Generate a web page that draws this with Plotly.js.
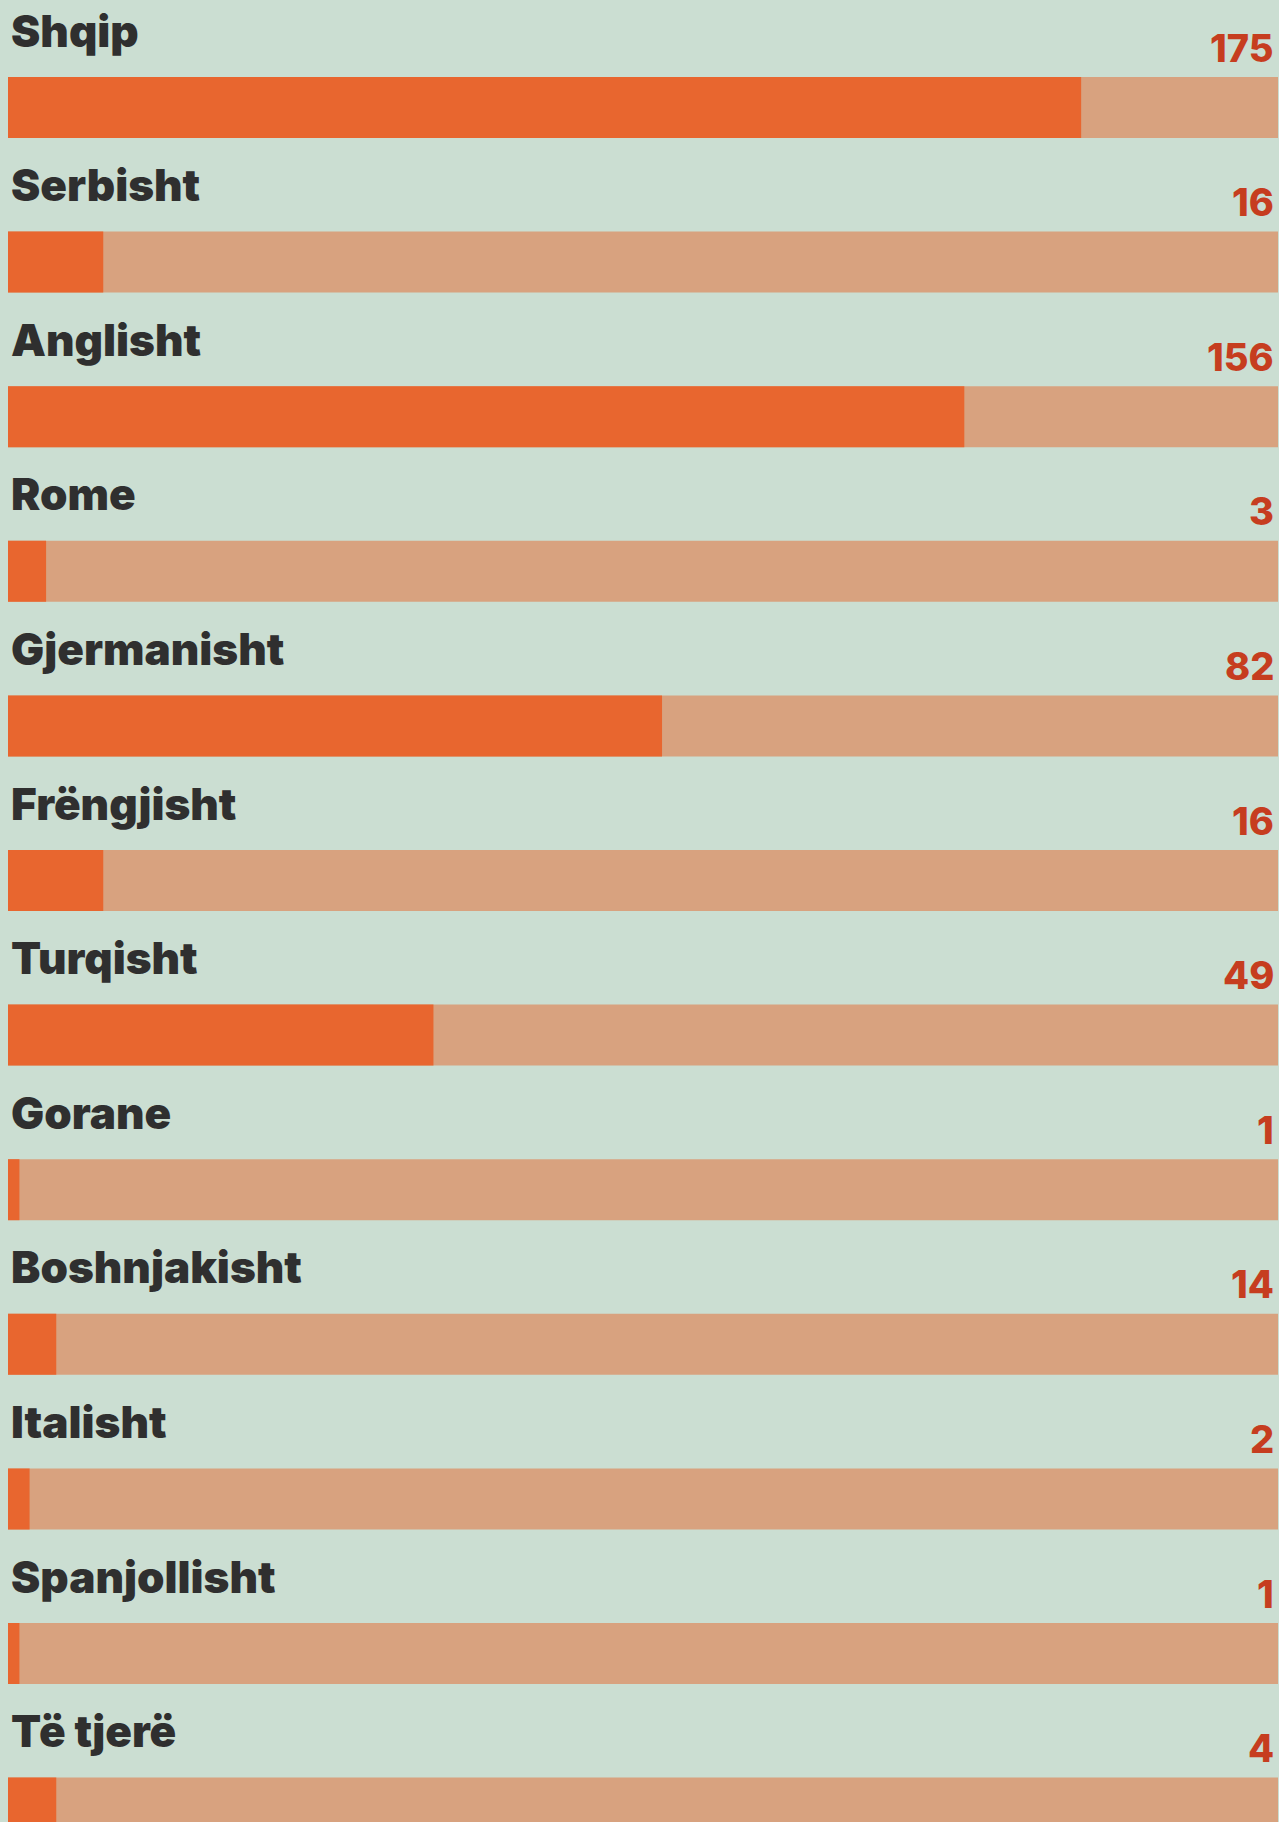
<!DOCTYPE html>
<html>
<head>
<meta charset="utf-8">
<script src="https://cdn.plot.ly/plotly-3.0.1.min.js"></script>
<style>
  html, body { margin: 0; padding: 0; background: #cbded2; overflow: hidden; }
  #chart { width: 1279px; height: 1822px; }
</style>
</head>
<body>
<div id="chart"></div>
<script>
// Languages (top to bottom)
const languages = ["Shqip", "Serbisht", "Anglisht", "Rome", "Gjermanisht", "Frëngjisht",
                   "Turqisht", "Gorane", "Boshnjakisht", "Italisht", "Spanjollisht", "Të tjerë"];
// Numbers shown on the right of each row
const counts = [175, 16, 156, 3, 82, 16, 49, 1, 14, 2, 1, 4];
// Filled share of each bar (percent of full track)
const shares = [84.5, 7.5, 75.3, 3.0, 51.5, 7.5, 33.5, 0.9, 3.8, 1.7, 0.9, 3.8];
// Full track (100 %)
const trackMax = 100;

const W = 1279, H = 1822;
const pitch = 154.6;          // px between rows
const firstCenter = 107.5;    // px, centre of first bar
const barPx = 61;             // px, bar thickness
const r0 = -firstCenter / pitch;
const r1 = r0 + H / pitch;

const idx = languages.map((_, i) => i);

const track = {
  type: "bar", orientation: "h",
  x: languages.map(() => trackMax), y: idx,
  width: barPx / pitch,
  marker: { color: "#d8a27f", line: { width: 0 } },
  hoverinfo: "skip", showlegend: false
};
const fill = {
  type: "bar", orientation: "h",
  x: shares, y: idx,
  width: barPx / pitch,
  marker: { color: "#e8662f", line: { width: 0 } },
  customdata: counts,
  hovertemplate: "%{customdata}<extra></extra>",
  showlegend: false
};

const fontFam = "Inter, 'Open Sans', 'Noto Sans', sans-serif";
const annotations = [];
languages.forEach((name, i) => {
  annotations.push({
    xref: "paper", yref: "y", x: 0, y: i,
    xanchor: "left", yanchor: "middle",
    xshift: 1, yshift: 77,
    text: name, showarrow: false,
    font: { family: fontFam, size: 44, color: "#2f2f2f", weight: 900 }
  });
  annotations.push({
    xref: "paper", yref: "y", x: 1, y: i,
    xanchor: "right", yanchor: "middle",
    xshift: -2, yshift: 60,
    text: String(counts[i]), showarrow: false,
    font: { family: fontFam, size: 38, color: "#c63d1f", weight: 800 }
  });
});

const layout = {
  width: W, height: H,
  margin: { l: 8, r: 1, t: 0, b: 0, pad: 0 },
  paper_bgcolor: "#cbded2",
  plot_bgcolor: "#cbded2",
  barmode: "overlay",
  xaxis: { range: [0, trackMax], visible: false, fixedrange: true },
  yaxis: { range: [r1, r0], visible: false, fixedrange: true },
  annotations: annotations,
  showlegend: false
};

Plotly.newPlot("chart", [track, fill], layout, { displayModeBar: false, staticPlot: true });
</script>
</body>
</html>
